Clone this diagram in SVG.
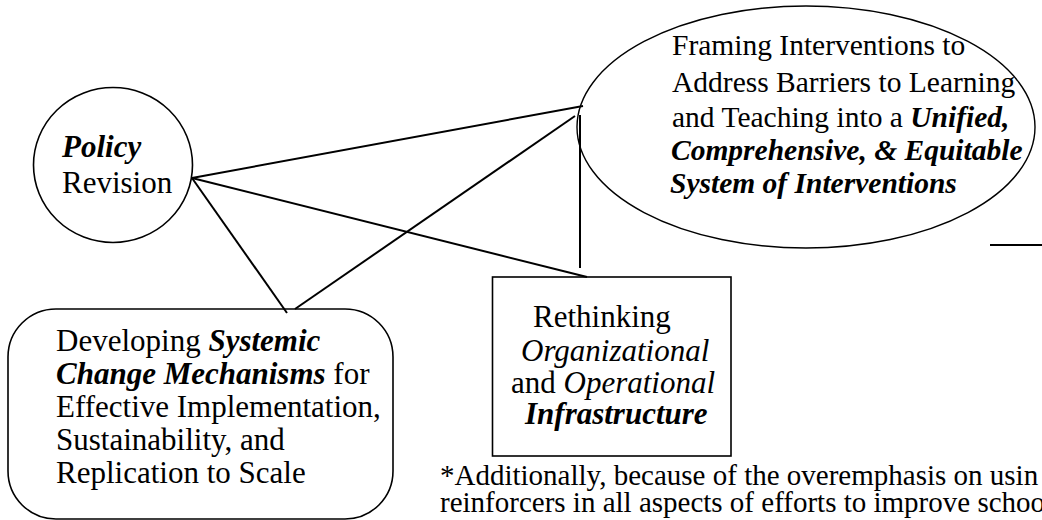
<svg xmlns="http://www.w3.org/2000/svg" width="1042" height="520" viewBox="0 0 1042 520">
  <style>
    .shape { fill: #ffffff; stroke: #000000; }
    .conn { stroke: #000000; stroke-width: 2; fill: none; stroke-linecap: butt; }
    text { font-family: "Liberation Serif", "Times New Roman", serif; fill: #000000; }
    .t31 { font-size: 31px; }
    .t29 { font-size: 29.5px; }
    .fn { font-size: 29px; }
    .bi { font-weight: bold; font-style: italic; }
    .it { font-style: italic; }
  </style>
  <rect x="0" y="0" width="1042" height="520" fill="#ffffff"/>

  <g id="node-policy">
    <ellipse class="shape" cx="113" cy="165" rx="79.5" ry="77.5" stroke-width="1.6"/>
    <text class="t31"><tspan class="bi" x="62" y="157">Policy</tspan><tspan x="62" y="193">Revision</tspan></text>
  </g>

  <g id="node-framing">
    <ellipse class="shape" cx="806" cy="127" rx="229" ry="121" stroke-width="1.4"/>
    <text class="t29">
      <tspan x="672" y="55">Framing Interventions to</tspan>
      <tspan x="672" y="92">Address Barriers to Learning</tspan>
      <tspan x="672" y="127">and Teaching into a </tspan><tspan class="bi">Unified,</tspan>
      <tspan class="bi" x="671" y="160">Comprehensive, &amp; Equitable</tspan>
      <tspan class="bi" x="670" y="193">System of Interventions</tspan>
    </text>
  </g>

  <g id="node-systemic">
    <rect class="shape" x="8" y="309" width="385" height="210" rx="48" ry="48" stroke-width="1.6"/>
    <text class="t31">
      <tspan x="56" y="351">Developing </tspan><tspan class="bi">Systemic</tspan>
      <tspan class="bi" x="56" y="384">Change Mechanisms</tspan><tspan> for</tspan>
      <tspan x="56" y="417">Effective Implementation,</tspan>
      <tspan x="56" y="450">Sustainability, and</tspan>
      <tspan x="56" y="483">Replication to Scale</tspan>
    </text>
  </g>

  <g id="node-infrastructure">
    <rect class="shape" x="492.5" y="277" width="238.5" height="179" stroke-width="1.6"/>
    <text class="t31">
      <tspan x="533" y="327">Rethinking</tspan>
      <tspan class="it" x="521" y="361">Organizational</tspan>
      <tspan x="511" y="393">and </tspan><tspan class="it">Operational</tspan>
      <tspan class="bi" x="525" y="424">Infrastructure</tspan>
    </text>
  </g>

  <g id="connectors">
    <line class="conn" x1="192" y1="178" x2="583" y2="106"/>
    <line class="conn" x1="295" y1="309" x2="575" y2="116"/>
    <line class="conn" x1="192" y1="178" x2="587" y2="277"/>
    <line class="conn" x1="192" y1="178" x2="287" y2="313"/>
    <line class="conn" x1="580" y1="115" x2="580" y2="268" stroke-width="3.5"/>
    <line class="conn" x1="990" y1="245" x2="1042" y2="245" stroke-width="1.5"/>
  </g>

  <g id="footnote">
    <text class="fn"><tspan x="440" y="485">*Additionally, because of the overemphasis on usin</tspan><tspan x="440" y="512">reinforcers in all aspects of efforts to improve schoo</tspan></text>
  </g>
</svg>
